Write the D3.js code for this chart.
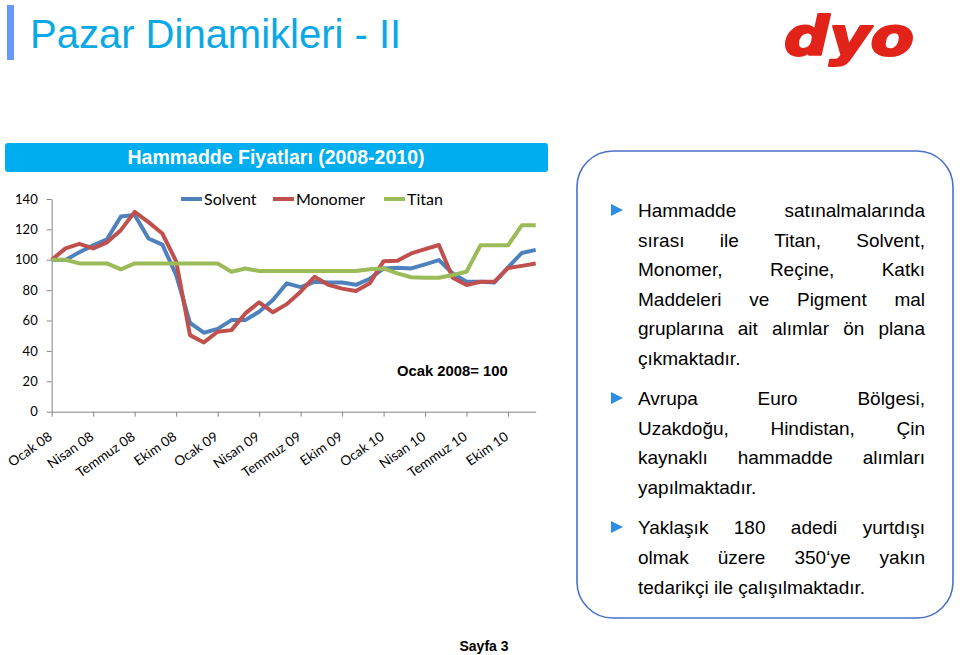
<!DOCTYPE html>
<html lang="tr">
<head>
<meta charset="utf-8">
<script src="https://cdn.jsdelivr.net/npm/d3@7"></script>
<style>
  html, body { margin: 0; padding: 0; background: #fff; }
  svg { display: block; }
</style>
</head>
<body>
<div id="slide"></div>
<script>
// ── DATA ─────────────────────────────────────────────────────
const monthNames = ['Ocak', 'Şubat', 'Mart', 'Nisan', 'Mayıs', 'Haziran', 'Temmuz', 'Ağustos', 'Eylül', 'Ekim', 'Kasım', 'Aralık']
const years = ['08', '09', '10']
const months = years.flatMap(yr => monthNames.map(m => `${m} ${yr}`))
const tickLabels = ['Ocak 08', 'Nisan 08', 'Temmuz 08', 'Ekim 08', 'Ocak 09', 'Nisan 09', 'Temmuz 09', 'Ekim 09', 'Ocak 10', 'Nisan 10', 'Temmuz 10', 'Ekim 10']
const yTicks = [0, 20, 40, 60, 80, 100, 120, 140]

const solvent = [100, 99.8, 105, 109.5, 113.5, 128.5, 129.5, 114, 110, 90, 58.5, 52,
  54.5, 60.3, 60.3, 65.8, 73.5, 84.5, 82, 85.5, 85, 85, 83.5, 87.5,
  94.3, 94.8, 94.3, 97, 99.8, 91, 85.5, 85.5, 85, 95, 104.5, 106.5]
const monomer = [100, 107.5, 110.5, 107.5, 111.5, 119.5, 131.5, 124.8, 117.3, 99, 50.4, 45.6,
  52.6, 53.7, 64.7, 72, 65.4, 70.8, 79, 88.8, 83.5, 81, 79.4, 84.5,
  99.1, 99.3, 104.2, 107, 109.7, 88.2, 83.4, 85.5, 85.5, 94.5, 96, 97.6]
const titan = [100, 100, 97.6, 97.6, 97.6, 93.7, 97.6, 97.6, 97.6, 97.6, 97.6, 97.6,
  97.6, 92.1, 94.3, 92.6, 92.6, 92.6, 92.6, 92.6, 92.6, 92.6, 92.6, 93.8,
  94.3, 91, 88.5, 88.2, 88.2, 90, 92.1, 109.5, 109.5, 109.5, 122.8, 122.8]

const seriesNames = ['Solvent', 'Monomer', 'Titan']
const seriesColors = ['#4F81BD', '#C0504D', '#9BBB59']
const seriesValues = [solvent, monomer, titan]

const para1 = ['Hammadde satınalmalarında', 'sırası ile Titan, Solvent,', 'Monomer, Reçine, Katkı',
  'Maddeleri ve Pigment mal', 'gruplarına ait alımlar ön plana', 'çıkmaktadır.']
const para2 = ['Avrupa Euro Bölgesi,', 'Uzakdoğu, Hindistan, Çin', 'kaynaklı hammadde alımları', 'yapılmaktadır.']
const para3 = ['Yaklaşık 180 adedi yurtdışı', 'olmak üzere 350‘ye yakın', 'tedarikçi ile çalışılmaktadır.']

// ── SVG ──────────────────────────────────────────────────────
const W = 960
const H = 655
const svg = d3.select('#slide').append('svg')
  .attr('width', W).attr('height', H)
  .attr('viewBox', `0 0 ${W} ${H}`)

const ARIAL = '"Liberation Sans", Arial, sans-serif'
const CHART_FONT = 'Lato, "Open Sans", sans-serif'

// slide title
svg.append('rect').attr('x', 7).attr('y', 5).attr('width', 7).attr('height', 55).attr('fill', '#6699FF')
svg.append('text')
  .attr('x', 30).attr('y', 48)
  .attr('font-family', ARIAL).attr('font-size', 40)
  .attr('fill', '#0AA8E4')
  .text('Pazar Dinamikleri - II')

// logo
svg.append('text')
  .attr('x', 784).attr('y', 55)
  .attr('font-family', '"DejaVu Sans", sans-serif')
  .attr('font-weight', 'bold').attr('font-style', 'italic')
  .attr('font-size', 53)
  .attr('textLength', 130).attr('lengthAdjust', 'spacingAndGlyphs')
  .attr('fill', '#E2231A').attr('stroke', '#E2231A').attr('stroke-width', 2.2)
  .attr('stroke-linejoin', 'round')
  .text('dyo')

// chart header bar
svg.append('rect')
  .attr('x', 5).attr('y', 143).attr('width', 543).attr('height', 29).attr('rx', 3)
  .attr('fill', '#00AEEF')
svg.append('text')
  .attr('x', 276).attr('y', 164)
  .attr('text-anchor', 'middle')
  .attr('font-family', ARIAL).attr('font-weight', 'bold').attr('font-size', 19.5)
  .attr('fill', '#fff')
  .text('Hammadde Fiyatları (2008-2010)')

// ── CHART ────────────────────────────────────────────────────
const x = d3.scalePoint().domain(d3.range(months.length)).range([51.7, 535.7])
const y = d3.scaleLinear().domain([0, 140]).range([411.7, 199])

const chart = svg.append('g').attr('font-family', CHART_FONT)

const yAxis = chart.append('g')
  .attr('transform', `translate(${x(0)},0)`)
  .call(d3.axisLeft(y).tickValues(yTicks).tickSize(5).tickSizeOuter(0).tickPadding(9))
yAxis.select('.domain').attr('stroke', '#868686')
yAxis.selectAll('.tick line').attr('stroke', '#868686')
yAxis.selectAll('.tick text').attr('font-family', CHART_FONT).attr('font-size', 13).attr('fill', '#000')

const tickIdx = d3.range(0, months.length, 3)
const xAxis = chart.append('g')
  .attr('transform', `translate(0,${y(0)})`)
  .call(d3.axisBottom(x).tickValues(tickIdx).tickSize(5).tickSizeOuter(0).tickFormat((d, i) => tickLabels[i]))
xAxis.select('.domain').attr('stroke', '#868686')
xAxis.selectAll('.tick line').attr('stroke', '#868686')
xAxis.selectAll('.tick text')
  .attr('font-family', CHART_FONT).attr('font-size', 13.5).attr('fill', '#000')
  .attr('text-anchor', 'end')
  .attr('y', 0).attr('dy', 0)
  .attr('transform', 'translate(1,27) rotate(-35)')

const line = d3.line()
  .x((d, i) => x(i))
  .y(d => y(d))

chart.selectAll('.series')
  .data(seriesValues)
  .join('path')
  .attr('class', 'series')
  .attr('d', line)
  .attr('fill', 'none')
  .attr('stroke', (d, i) => seriesColors[i])
  .attr('stroke-width', 4)
  .attr('stroke-linejoin', 'round')

// legend
const legendX = [181, 273, 384]
const legend = chart.selectAll('.legend-item')
  .data(seriesNames)
  .join('g')
  .attr('class', 'legend-item')
  .attr('transform', (d, i) => `translate(${legendX[i]},199)`)
legend.append('line')
  .attr('x1', 0).attr('x2', 21)
  .attr('stroke', (d, i) => seriesColors[i]).attr('stroke-width', 4)
legend.append('text')
  .attr('x', 23).attr('dy', '0.35em')
  .attr('font-size', 16).attr('fill', '#000')
  .text(d => d)

chart.append('text')
  .attr('x', 397).attr('y', 376)
  .attr('font-family', ARIAL).attr('font-weight', 'bold').attr('font-size', 14.8)
  .attr('fill', '#000')
  .text('Ocak 2008= 100')

// ── TEXT BOX ─────────────────────────────────────────────────
svg.append('rect')
  .attr('x', 577).attr('y', 151).attr('width', 376).attr('height', 467).attr('rx', 36)
  .attr('fill', '#fff').attr('stroke', '#4A72C8').attr('stroke-width', 1.6)

const box = svg.append('g')
  .attr('font-family', ARIAL).attr('font-size', 19).attr('fill', '#000')

function drawParagraph (lines, x0, x1, y0, lh) {
  box.append('path')
    .attr('d', `M611,${y0 - 13}L611,${y0 - 1}L623,${y0 - 7}Z`)
    .attr('fill', '#2E8CE6')
  lines.forEach((ln, i) => {
    const words = ln.split(' ')
    const yy = y0 + i * lh
    const texts = words.map(w => box.append('text').attr('y', yy).text(w))
    const widths = texts.map(t => t.node().getComputedTextLength())
    const last = i === lines.length - 1
    const gap = (last || words.length < 2) ? 5.3 : (x1 - x0 - d3.sum(widths)) / (words.length - 1)
    let xx = x0
    texts.forEach((t, j) => {
      t.attr('x', xx)
      xx += widths[j] + gap
    })
  })
}

drawParagraph(para1, 638, 925, 217, 29.5)
drawParagraph(para2, 638, 925, 405, 29.7)
drawParagraph(para3, 638, 925, 534, 30)

// footer
svg.append('text')
  .attr('x', 484).attr('y', 651)
  .attr('text-anchor', 'middle')
  .attr('font-family', ARIAL).attr('font-weight', 'bold').attr('font-size', 14)
  .attr('fill', '#000')
  .text('Sayfa 3')
</script>
</body>
</html>
